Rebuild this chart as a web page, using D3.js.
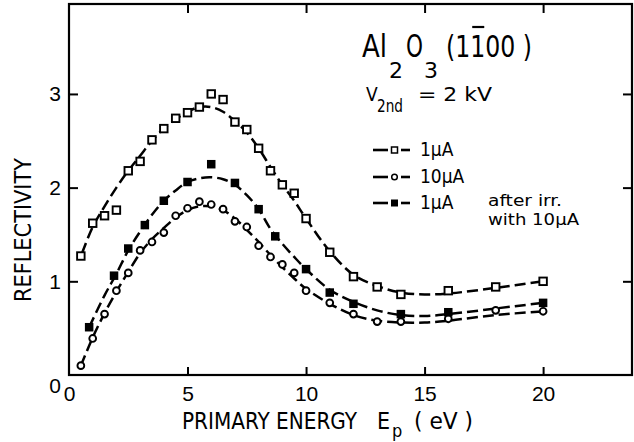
<!DOCTYPE html>
<html>
<head>
<meta charset="utf-8">
<script src="https://cdn.jsdelivr.net/npm/d3@7"></script>
<style>
  body { margin: 0; background: #fff; }
  svg { display: block; font-family: "DejaVu Sans Condensed", "Liberation Sans Narrow", "DejaVu Sans", sans-serif; }
  .axis text { font-size: 21px; fill: #000; }
  .axis line { stroke: #000; stroke-width: 2; }
</style>
</head>
<body>
<div id="chart"></div>
<script>
// measured points, 1 uA (open squares)
const energyOpenSq = [0.5, 1, 1.5, 2, 2.5, 3, 3.5, 4, 4.5, 5, 5.5, 6, 6.5, 7, 7.5, 8, 8.5, 9, 9.5, 10, 11, 12, 13, 14, 16, 18, 20];
const reflOpenSq = [1.27, 1.62, 1.70, 1.76, 2.18, 2.28, 2.51, 2.63, 2.74, 2.80, 2.86, 3.00, 2.94, 2.70, 2.62, 2.42, 2.18, 2.03, 1.94, 1.67, 1.31, 1.05, 0.94, 0.86, 0.90, 0.94, 1.00];

// 10 uA (open circles)
const energyCircle = [0.5, 1, 1.5, 2, 2.5, 3, 3.5, 4, 4.5, 5, 5.5, 6, 6.5, 7, 7.5, 8, 8.5, 9, 9.5, 10, 11, 12, 13, 14, 16, 18, 20];
const reflCircle = [0.10, 0.39, 0.65, 0.90, 1.09, 1.33, 1.42, 1.52, 1.70, 1.78, 1.85, 1.82, 1.77, 1.64, 1.58, 1.38, 1.26, 1.18, 1.09, 0.90, 0.77, 0.65, 0.57, 0.57, 0.60, 0.69, 0.68];

// 1 uA after irradiation with 10 uA (filled squares)
const energyFilled = [0.85, 1.9, 2.5, 3.2, 4, 5, 6, 7, 8, 8.7, 10, 11, 12, 14, 16, 20];
const reflFilled = [0.51, 1.06, 1.35, 1.60, 1.86, 2.06, 2.25, 2.05, 1.77, 1.48, 1.13, 0.88, 0.76, 0.65, 0.67, 0.77];

// hand-drawn guide curves
const fitEnergyOpenSq = [0.55, 1, 1.5, 2, 2.5, 3, 3.5, 4, 4.5, 5, 5.5, 6, 6.5, 7, 7.5, 8, 8.5, 9, 9.5, 10, 11, 12, 13, 14, 15, 16, 18, 20];
const fitReflOpenSq = [1.30, 1.58, 1.80, 2.00, 2.18, 2.34, 2.50, 2.63, 2.73, 2.81, 2.86, 2.86, 2.81, 2.71, 2.59, 2.42, 2.22, 2.03, 1.86, 1.67, 1.32, 1.07, 0.95, 0.88, 0.86, 0.87, 0.93, 1.00];
const fitEnergyCircle = [0.5, 1, 1.5, 2, 2.5, 3, 3.5, 4, 4.5, 5, 5.5, 6, 6.5, 7, 7.5, 8, 8.5, 9, 9.5, 10, 11, 12, 13, 14, 15, 16, 18, 20];
const fitReflCircle = [0.10, 0.40, 0.66, 0.89, 1.10, 1.30, 1.45, 1.57, 1.68, 1.76, 1.80, 1.80, 1.76, 1.67, 1.55, 1.42, 1.28, 1.15, 1.03, 0.92, 0.76, 0.64, 0.58, 0.56, 0.56, 0.58, 0.64, 0.68];
const fitEnergyFilled = [0.85, 1.5, 2, 2.5, 3, 3.5, 4, 4.5, 5, 5.5, 6, 6.5, 7, 7.5, 8, 8.5, 9, 9.5, 10, 11, 12, 13, 14, 15, 16, 18, 20];
const fitReflFilled = [0.51, 0.85, 1.08, 1.33, 1.53, 1.71, 1.86, 1.97, 2.06, 2.10, 2.11, 2.09, 2.03, 1.92, 1.77, 1.56, 1.40, 1.26, 1.13, 0.91, 0.78, 0.69, 0.64, 0.63, 0.65, 0.71, 0.77];

const xTicks = [0, 5, 10, 15, 20];
const yTicks = [0, 1, 2, 3];
const legendLabels = ["1\u00b5A", "10\u00b5A", "1\u00b5A"];

const width = 634, height = 442;
const margin = { top: 4, right: 2, bottom: 67, left: 69 };

const svg = d3.select("#chart").append("svg")
  .attr("width", width)
  .attr("height", height);

const x = d3.scaleLinear().domain([0, 23.75]).range([margin.left, width - margin.right]);
const y = d3.scaleLinear().domain([0, 3.96]).range([height - margin.bottom, margin.top]);

const zip = (a, b) => a.map((v, i) => [v, b[i]]);
const fmt = d3.format("d");

// axes, ticks pointing inward
svg.append("g").attr("class", "axis")
  .attr("transform", `translate(0,${y(0)})`)
  .call(d3.axisBottom(x).tickValues(xTicks).tickFormat(fmt).tickSize(-8).tickPadding(11))
  .call(g => g.select(".domain").remove())
  .call(g => g.selectAll(".tick").filter(d => d === 0).select("line").remove());

svg.append("g").attr("class", "axis")
  .attr("transform", `translate(${x(0)},0)`)
  .call(d3.axisLeft(y).tickValues(yTicks).tickFormat(fmt).tickSize(-9).tickPadding(8))
  .call(g => g.select(".domain").remove())
  .call(g => g.selectAll(".tick").filter(d => d === 0).select("text").attr("dy", "0.85em"))
  .call(g => g.selectAll(".tick").filter(d => d === 0).select("line").remove());

svg.append("g").attr("class", "axis")
  .attr("transform", `translate(0,${y.range()[1]})`)
  .call(d3.axisTop(x).tickValues([5, 10, 15, 20]).tickSize(-9).tickFormat(""))
  .call(g => g.select(".domain").remove());

svg.append("g").attr("class", "axis")
  .attr("transform", `translate(${x.range()[1]},0)`)
  .call(d3.axisRight(y).tickValues([1, 2, 3]).tickSize(-9).tickFormat(""))
  .call(g => g.select(".domain").remove());

svg.append("rect")
  .attr("x", x(0)).attr("y", y.range()[1])
  .attr("width", x.range()[1] - x(0))
  .attr("height", y(0) - y.range()[1])
  .attr("fill", "none").attr("stroke", "#000").attr("stroke-width", 2.2);

// guide curves
const line = d3.line().x(d => x(d[0])).y(d => y(d[1])).curve(d3.curveCatmullRom);
const curves = [
  zip(fitEnergyOpenSq, fitReflOpenSq),
  zip(fitEnergyCircle, fitReflCircle),
  zip(fitEnergyFilled, fitReflFilled)
];
svg.append("g").selectAll("path")
  .data(curves)
  .join("path")
  .attr("d", line)
  .attr("fill", "none")
  .attr("stroke", "#000")
  .attr("stroke-width", 2.5)
  .attr("stroke-dasharray", "11,5");

// markers
const sq = 7.5;
svg.append("g").selectAll("rect")
  .data(zip(energyOpenSq, reflOpenSq))
  .join("rect")
  .attr("x", d => x(d[0]) - sq / 2)
  .attr("y", d => y(d[1]) - sq / 2)
  .attr("width", sq).attr("height", sq)
  .attr("fill", "#fff").attr("stroke", "#000").attr("stroke-width", 1.9);

svg.append("g").selectAll("circle")
  .data(zip(energyCircle, reflCircle))
  .join("circle")
  .attr("cx", d => x(d[0]))
  .attr("cy", d => y(d[1]))
  .attr("r", 3.4)
  .attr("fill", "#fff").attr("stroke", "#000").attr("stroke-width", 1.9);

svg.append("g").selectAll("rect")
  .data(zip(energyFilled, reflFilled))
  .join("rect")
  .attr("x", d => x(d[0]) - sq / 2 - 0.5)
  .attr("y", d => y(d[1]) - sq / 2 - 0.5)
  .attr("width", sq + 1).attr("height", sq + 1)
  .attr("fill", "#000");

// axis titles
svg.append("text")
  .attr("transform", "translate(31,230) rotate(-90)")
  .attr("text-anchor", "middle")
  .attr("font-size", 23)
  .attr("textLength", 144).attr("lengthAdjust", "spacingAndGlyphs")
  .text("REFLECTIVITY");

const xTitle = svg.append("text").attr("y", 429).attr("font-size", 23);
xTitle.append("tspan").attr("x", 182)
  .attr("textLength", 175).attr("lengthAdjust", "spacingAndGlyphs")
  .text("PRIMARY ENERGY");
xTitle.append("tspan").attr("x", 377).text("E");
xTitle.append("tspan").attr("x", 392).attr("dy", 8).attr("font-size", 18).text("p");
xTitle.append("tspan").attr("x", 414).attr("dy", -8)
  .attr("textLength", 59).attr("lengthAdjust", "spacingAndGlyphs")
  .text("( eV )");

// title, one text element with positioned pieces
const title = svg.append("text").attr("y", 57).attr("font-size", 32);
title.append("tspan").attr("x", 362)
  .attr("textLength", 25).attr("lengthAdjust", "spacingAndGlyphs").text("Al");
title.append("tspan").attr("x", 389).attr("dy", 21).attr("font-size", 21)
  .attr("textLength", 14).attr("lengthAdjust", "spacingAndGlyphs").text("2");
title.append("tspan").attr("x", 406).attr("dy", -21)
  .attr("textLength", 17).attr("lengthAdjust", "spacingAndGlyphs").text("O");
title.append("tspan").attr("x", 424).attr("dy", 21).attr("font-size", 21)
  .attr("textLength", 14).attr("lengthAdjust", "spacingAndGlyphs").text("3");
title.append("tspan").attr("x", 446).attr("dy", -21).attr("font-size", 31)
  .attr("textLength", 86).attr("lengthAdjust", "spacingAndGlyphs")
  .text("(1100 )");
const titleNode = title.node();
const nChars = titleNode.getNumberOfChars();
// bar over the second "1" of the Miller index ("Al2O3" = 5 chars, then "(1")
const barIdx = 5 + 2;
if (barIdx < nChars) {
  const b0 = titleNode.getStartPositionOfChar(barIdx).x;
  const b1 = titleNode.getEndPositionOfChar(barIdx).x;
  svg.append("line")
    .attr("x1", b0 + 2).attr("x2", b1 - 1)
    .attr("y1", 27).attr("y2", 27)
    .attr("stroke", "#000").attr("stroke-width", 2.2);
}

const vText = svg.append("text").attr("y", 101).attr("font-size", 19);
vText.append("tspan").attr("x", 366).text("V");
vText.append("tspan").attr("x", 377).attr("dy", 11).attr("font-size", 17)
  .attr("textLength", 26).attr("lengthAdjust", "spacingAndGlyphs").text("2nd");
vText.append("tspan").attr("x", 418).attr("dy", -11)
  .attr("textLength", 74).attr("lengthAdjust", "spacingAndGlyphs")
  .text("= 2 kV");

// legend
const legendY = [150, 177, 203];
const legend = svg.append("g").selectAll("g")
  .data(legendLabels)
  .join("g")
  .attr("transform", (d, i) => `translate(0,${legendY[i]})`);

legend.append("line").attr("x1", 373).attr("x2", 388)
  .attr("stroke", "#000").attr("stroke-width", 2.6);
legend.append("line").attr("x1", 401).attr("x2", 410)
  .attr("stroke", "#000").attr("stroke-width", 2.6);
legend.filter((d, i) => i === 0).append("rect")
  .attr("x", 391.5).attr("y", -3).attr("width", 6).attr("height", 6)
  .attr("fill", "#fff").attr("stroke", "#000").attr("stroke-width", 1.5);
legend.filter((d, i) => i === 1).append("circle")
  .attr("cx", 394.5).attr("r", 2.8)
  .attr("fill", "#fff").attr("stroke", "#000").attr("stroke-width", 1.5);
legend.filter((d, i) => i === 2).append("rect")
  .attr("x", 391).attr("y", -3.5).attr("width", 7).attr("height", 7)
  .attr("fill", "#000");
legend.append("text")
  .attr("x", 420).attr("y", 6)
  .attr("font-size", 19)
  .text(d => d);

const note = svg.append("text").attr("y", 206).attr("font-size", 16);
note.append("tspan").attr("x", 488)
  .attr("textLength", 74).attr("lengthAdjust", "spacingAndGlyphs")
  .text("after irr.");
note.append("tspan").attr("x", 488).attr("dy", 19)
  .attr("textLength", 91).attr("lengthAdjust", "spacingAndGlyphs")
  .text("with 10\u00b5A");
</script>
</body>
</html>
